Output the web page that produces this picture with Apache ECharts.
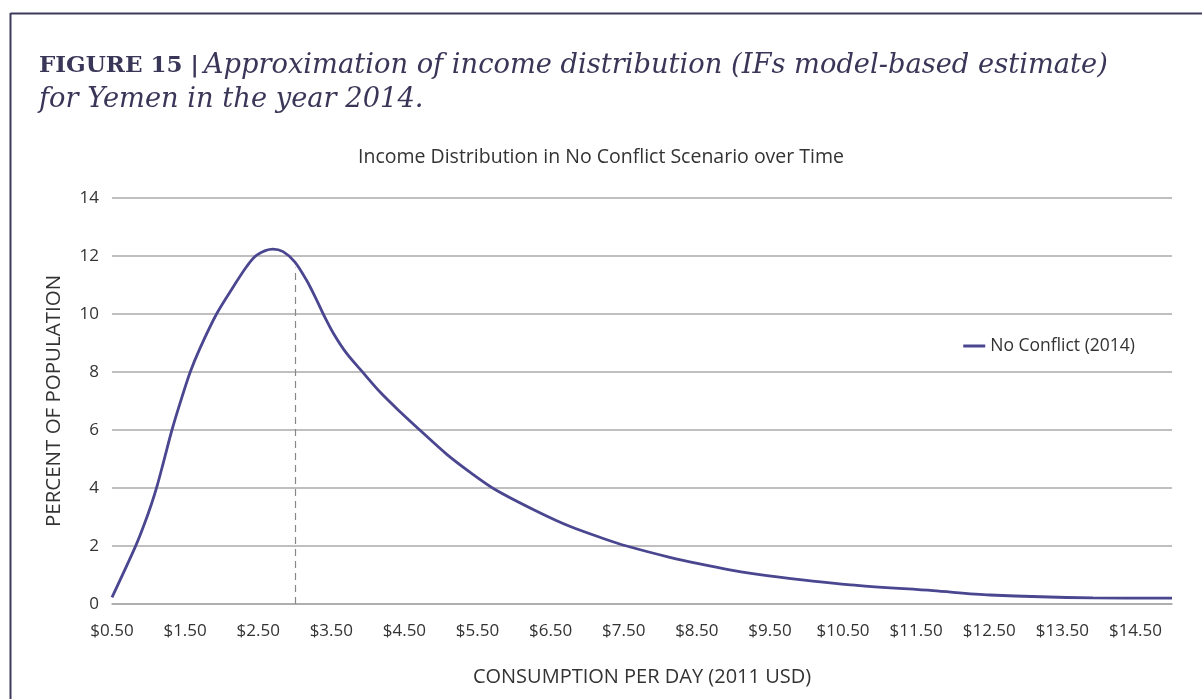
<!DOCTYPE html>
<html><head><meta charset="utf-8">
<script src="https://cdn.jsdelivr.net/npm/echarts@6/dist/echarts.min.js"></script>
<style>html,body{margin:0;padding:0;background:#fff;}#c{width:1202px;height:699px;}</style>
</head><body><div id="c"></div>
<script>
// Consumption per day (2011 USD) and percent of population
const consumption = [0.5,0.82,0.93,1.04,1.12,1.2,1.32,1.43,1.57,1.7,1.93,2.16,2.34,2.48,2.7,2.84,3.0,3.16,3.3,3.39,3.53,3.71,3.92,4.17,4.44,4.71,5.08,5.4,5.74,6.31,6.77,7.22,7.54,8.13,8.54,8.95,9.46,10.6,11.73,12.51,13.92,15.0];
const percentNoConflict2014 = [0.23,1.98,2.67,3.45,4.1,4.85,6.0,6.92,8.0,8.8,10.0,10.94,11.63,12.03,12.24,12.15,11.8,11.17,10.48,10.0,9.33,8.64,8.02,7.3,6.63,6.0,5.16,4.54,3.95,3.2,2.67,2.26,2.0,1.61,1.38,1.18,0.98,0.66,0.46,0.31,0.21,0.2];
const xTickValues = [0.5,1.5,2.5,3.5,4.5,5.5,6.5,7.5,8.5,9.5,10.5,11.5,12.5,13.5,14.5];
const yTickValues = [0,2,4,6,8,10,12,14];
const markerX = 3.0;
const markerTop = 11.6;

const chart = echarts.init(document.getElementById('c'));
const sans = 'Open Sans';
chart.setOption({
  animation:false,
  backgroundColor:'#fff',
  graphic:[
    {type:'line',shape:{x1:10.5,y1:13.5,x2:1202,y2:13.5},style:{stroke:'#3d3a5c',lineWidth:2}},
    {type:'line',shape:{x1:10.5,y1:13,x2:10.5,y2:699},style:{stroke:'#3d3a5c',lineWidth:2}}
  ],
  title:[{
    text:'{a|FIGURE 15 |} {b|Approximation of income distribution (IFs model-based estimate)}\n{b|for Yemen in the year 2014.}',
    left:34, top:44,
    textStyle:{rich:{
      a:{fontFamily:'DejaVu Serif',fontWeight:'bold',fontSize:23,color:'#3a3658',lineHeight:34},
      b:{fontFamily:'DejaVu Serif',fontStyle:'italic',fontWeight:'normal',fontSize:27.3,color:'#3a3658',lineHeight:34}
    }}
  },{
    text:'Income Distribution in No Conflict Scenario over Time',
    left:'center', top:142,
    textStyle:{fontFamily:sans,fontWeight:'normal',fontSize:19.5,color:'#333'}
  }],
  legend:{
    right:62, top:332, itemWidth:22, itemHeight:3, icon:'rect', itemGap:10,
    textStyle:{fontFamily:sans,fontSize:17.5,color:'#333'},
    data:['No Conflict (2014)']
  },
  grid:{left:112,right:30,top:198,bottom:95},
  xAxis:{
    type:'value', min:0.5, max:15,
    name:'CONSUMPTION PER DAY (2011 USD)', nameLocation:'middle', nameGap:63,
    nameTextStyle:{fontFamily:sans,fontSize:20,color:'#333'},
    axisLine:{show:true,onZero:false,lineStyle:{color:'#aaa',width:1.5}},
    axisTick:{show:false},
    splitLine:{show:false},
    axisLabel:{customValues:xTickValues,margin:19,fontFamily:sans,fontSize:17,color:'#333',
      hideOverlap:false,
      formatter:v=>'$'+v.toFixed(2)}
  },
  yAxis:{
    type:'value', min:0, max:14, interval:2,
    name:'PERCENT OF POPULATION', nameLocation:'middle', nameGap:47,
    nameTextStyle:{fontFamily:sans,fontSize:20.5,color:'#333'},
    axisLine:{show:false}, axisTick:{show:false},
    axisLabel:{margin:13,fontFamily:sans,fontSize:17,color:'#333',
      formatter:v=>yTickValues.includes(v)?String(v):''},
    splitLine:{lineStyle:{color:'#aaa',width:1.5}}
  },
  series:[{
    name:'No Conflict (2014)', type:'line',
    data:consumption.map((x,i)=>[x,percentNoConflict2014[i]]),
    smooth:0.3, symbol:'none',
    lineStyle:{color:'#4a4690',width:2.8}, itemStyle:{color:'#4a4690'},
    markLine:{
      silent:true, symbol:'none', label:{show:false},
      lineStyle:{color:'#888',type:[7,5],width:1.2},
      data:[[{coord:[markerX,0]},{coord:[markerX,markerTop]}]]
    }
  }]
});
</script></body></html>
